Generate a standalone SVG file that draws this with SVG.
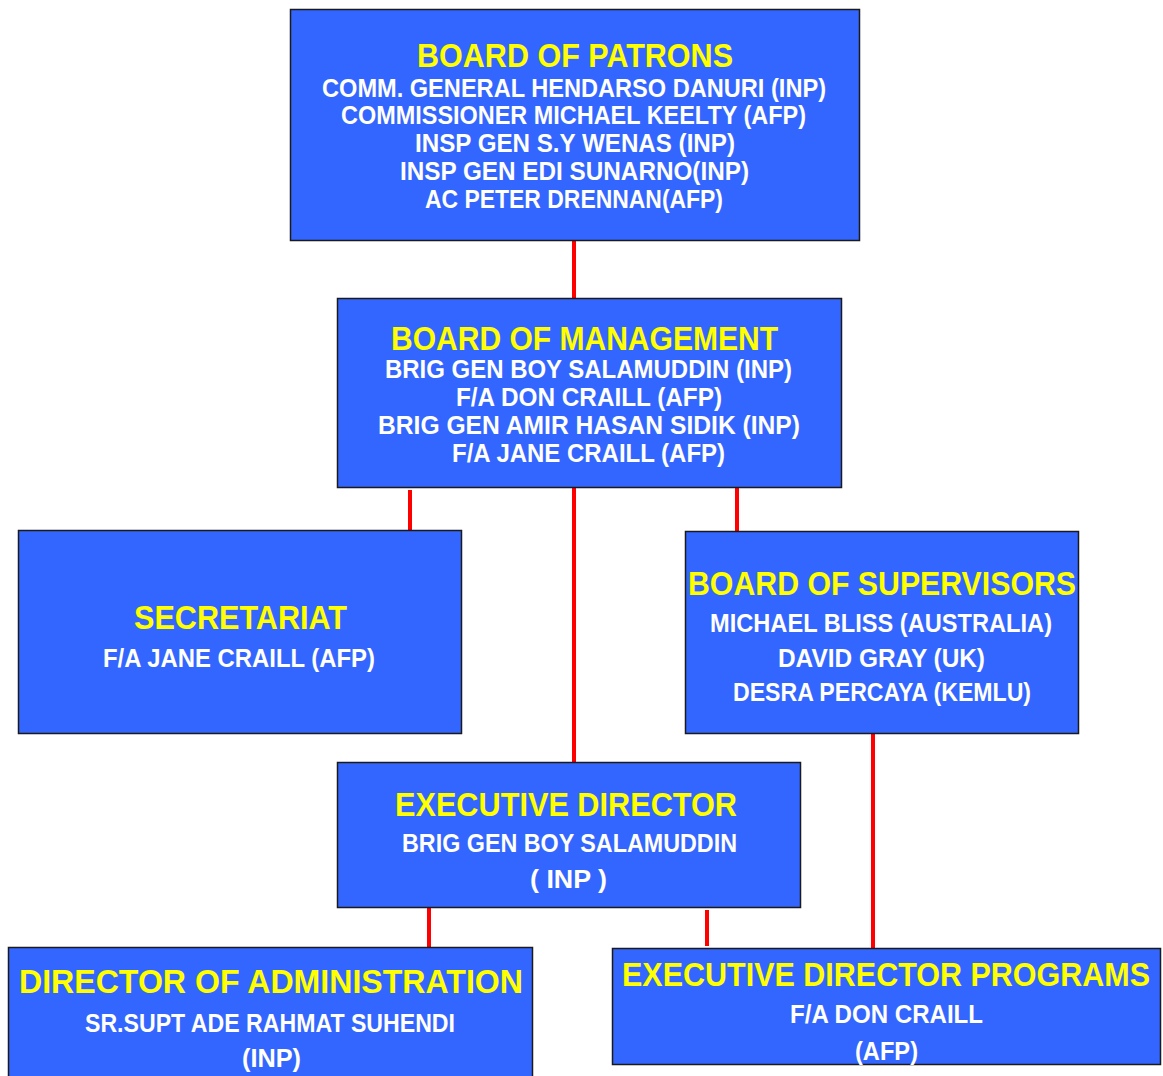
<svg xmlns="http://www.w3.org/2000/svg" width="1163" height="1076" viewBox="0 0 1163 1076">
<style>
.box{fill:#3366FF;stroke:#1a1a1a;stroke-width:1.5}
.t{font-family:"Liberation Sans Narrow","Liberation Sans",Arial,sans-serif;fill:#FFFF00;font-size:34px;font-weight:bold;text-anchor:start}
.s{font-family:"Liberation Sans Narrow","Liberation Sans",Arial,sans-serif;fill:#FFFFFF;font-size:25px;font-weight:bold;text-anchor:start}
.c{stroke:#FF0000;stroke-width:4;fill:none}
</style>
<rect width="1163" height="1076" fill="#FFFFFF"/>
<g id="connectors">
<line class="c" x1="574" y1="241" x2="574" y2="298"/>
<line class="c" x1="410" y1="490" x2="410" y2="532"/>
<line class="c" x1="574" y1="488" x2="574" y2="762"/>
<line class="c" x1="737" y1="488" x2="737" y2="531"/>
<line class="c" x1="873" y1="734" x2="873" y2="950"/>
<line class="c" x1="429" y1="908" x2="429" y2="947"/>
<line class="c" x1="707" y1="910" x2="707" y2="946"/>
</g>
<g id="patrons">
<rect class="box" x="290.5" y="9.5" width="569" height="231"/>
<text class="t" x="417" y="67" textLength="316" lengthAdjust="spacingAndGlyphs">BOARD OF PATRONS</text>
<text class="s" x="322" y="97" textLength="504" lengthAdjust="spacingAndGlyphs">COMM. GENERAL HENDARSO DANURI  (INP)</text>
<text class="s" x="341" y="124" textLength="465" lengthAdjust="spacingAndGlyphs">COMMISSIONER MICHAEL KEELTY (AFP)</text>
<text class="s" x="415" y="152" textLength="320" lengthAdjust="spacingAndGlyphs">INSP GEN S.Y WENAS (INP)</text>
<text class="s" x="400" y="180" textLength="349" lengthAdjust="spacingAndGlyphs">INSP GEN EDI SUNARNO(INP)</text>
<text class="s" x="425" y="208" textLength="298" lengthAdjust="spacingAndGlyphs">AC PETER DRENNAN(AFP)</text>
</g>
<g id="management">
<rect class="box" x="337.5" y="298.5" width="504" height="189"/>
<text class="t" x="391" y="350" textLength="387" lengthAdjust="spacingAndGlyphs">BOARD OF MANAGEMENT</text>
<text class="s" x="385" y="378" textLength="407" lengthAdjust="spacingAndGlyphs">BRIG GEN BOY SALAMUDDIN (INP)</text>
<text class="s" x="456" y="406" textLength="266" lengthAdjust="spacingAndGlyphs">F/A DON CRAILL (AFP)</text>
<text class="s" x="378" y="434" textLength="422" lengthAdjust="spacingAndGlyphs">BRIG GEN AMIR HASAN SIDIK (INP)</text>
<text class="s" x="452" y="462" textLength="273" lengthAdjust="spacingAndGlyphs">F/A JANE CRAILL (AFP)</text>
</g>
<g id="secretariat">
<rect class="box" x="18.5" y="530.5" width="443" height="203"/>
<text class="t" x="134" y="629" textLength="213" lengthAdjust="spacingAndGlyphs">SECRETARIAT</text>
<text class="s" x="103" y="667" textLength="272" lengthAdjust="spacingAndGlyphs">F/A JANE CRAILL (AFP)</text>
</g>
<g id="supervisors">
<rect class="box" x="685.5" y="531.5" width="393" height="202"/>
<text class="t" x="688" y="595" textLength="388" lengthAdjust="spacingAndGlyphs">BOARD OF SUPERVISORS</text>
<text class="s" x="710" y="632" textLength="342" lengthAdjust="spacingAndGlyphs">MICHAEL BLISS (AUSTRALIA)</text>
<text class="s" x="778" y="667" textLength="207" lengthAdjust="spacingAndGlyphs">DAVID GRAY (UK)</text>
<text class="s" x="733" y="701" textLength="298" lengthAdjust="spacingAndGlyphs">DESRA PERCAYA (KEMLU)</text>
</g>
<g id="executive-director">
<rect class="box" x="337.5" y="762.5" width="463" height="145"/>
<text class="t" x="395" y="816" textLength="342" lengthAdjust="spacingAndGlyphs">EXECUTIVE DIRECTOR</text>
<text class="s" x="402" y="852" textLength="335" lengthAdjust="spacingAndGlyphs">BRIG GEN BOY SALAMUDDIN</text>
<text class="s" x="530" y="888" textLength="77" lengthAdjust="spacingAndGlyphs">( INP )</text>
</g>
<g id="director-administration">
<rect class="box" x="8.5" y="947.5" width="524" height="135"/>
<text class="t" x="19" y="993" textLength="504" lengthAdjust="spacingAndGlyphs">DIRECTOR OF ADMINISTRATION</text>
<text class="s" x="85" y="1032" textLength="370" lengthAdjust="spacingAndGlyphs">SR.SUPT ADE RAHMAT SUHENDI</text>
<text class="s" x="242" y="1067" textLength="59" lengthAdjust="spacingAndGlyphs">(INP)</text>
</g>
<g id="executive-director-programs">
<rect class="box" x="612.5" y="948.5" width="548" height="116"/>
<text class="t" x="622" y="986" textLength="528" lengthAdjust="spacingAndGlyphs">EXECUTIVE DIRECTOR PROGRAMS</text>
<text class="s" x="790" y="1023" textLength="193" lengthAdjust="spacingAndGlyphs">F/A DON CRAILL</text>
<text class="s" x="855" y="1060" textLength="63" lengthAdjust="spacingAndGlyphs">(AFP)</text>
</g>
</svg>
